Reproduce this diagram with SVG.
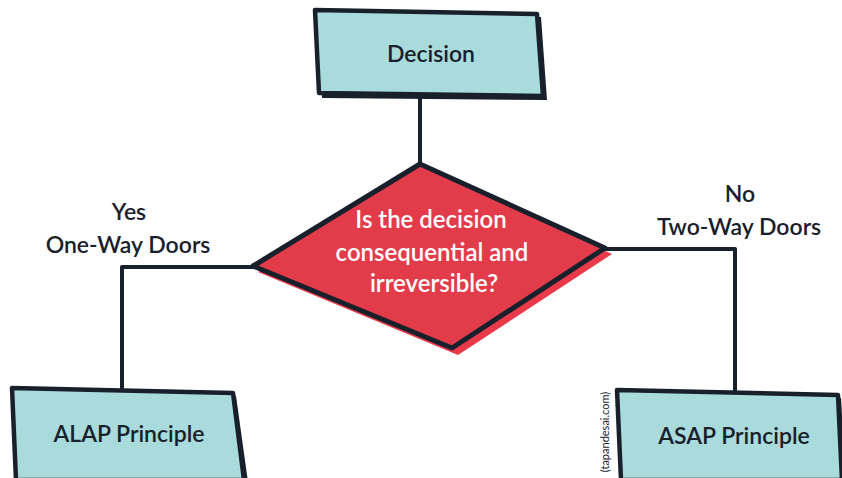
<svg xmlns="http://www.w3.org/2000/svg" width="842" height="478" viewBox="0 0 842 478">
  <style>
    .box { fill: #a9dbdc; stroke: #18202b; stroke-width: 4.5; stroke-linejoin: round; }
    .shade { fill: #18202b; }
    .wire { fill: none; stroke: #18202b; stroke-width: 4; stroke-linejoin: round; }
    .lbl { font-family: "Lato", "Open Sans", "Liberation Sans", sans-serif; font-weight: 600; fill: #18202b; text-anchor: middle; }
    .q { font-family: "Lato", "Open Sans", "Liberation Sans", sans-serif; font-weight: 600; fill: #ffffff; text-anchor: middle; font-size: 24px; }
  </style>
  <rect width="842" height="478" fill="#ffffff"/>

  <!-- connectors -->
  <g id="connectors">
    <path class="wire" d="M420 97 V165"/>
    <path class="wire" d="M254 267 H122 V391"/>
    <path class="wire" d="M604 249 H735 V393"/>
  </g>

  <!-- top node -->
  <g id="decision">
    <polygon class="shade" points="318,13 541,17 547,100 322,98"/>
    <polygon class="box" points="315,10 537,14 543,96 319,93"/>
    <text class="lbl" x="431" y="62" font-size="23">Decision</text>
  </g>

  <!-- question diamond -->
  <g id="question">
    <polygon fill="#ea3a4a" points="258,272 425,169 612,254 458,355"/>
    <polygon fill="#e23c4b" stroke="#18202b" stroke-width="5" stroke-linejoin="round" points="253,266 420,164 605,248 452,348"/>
    <text class="q" x="431" y="228">Is the decision</text>
    <text class="q" x="432" y="261">consequential and</text>
    <text class="q" x="434" y="292">irreversible?</text>
  </g>

  <!-- branch labels -->
  <g id="yes-label">
    <text class="lbl" x="129" y="220" font-size="23">Yes</text>
    <text class="lbl" x="128" y="253" font-size="23">One-Way Doors</text>
  </g>
  <g id="no-label">
    <text class="lbl" x="740" y="202" font-size="23">No</text>
    <text class="lbl" x="739" y="235" font-size="23">Two-Way Doors</text>
  </g>

  <!-- outcome nodes -->
  <g id="alap">
    <polygon class="shade" points="15,391 236,396 248,482 19,482"/>
    <polygon class="box" points="12,388 233,393 244,480 16,480"/>
    <text class="lbl" x="129" y="442" font-size="23">ALAP Principle</text>
  </g>
  <g id="asap">
    <polygon class="shade" points="620,393 841,398 846,482 624,482"/>
    <polygon class="box" points="617,390 838,395 842,480 621,480"/>
    <text class="lbl" x="734" y="444" font-size="23">ASAP Principle</text>
  </g>

  <!-- credit -->
  <text x="609" y="432" font-family="Lato, 'Liberation Sans', sans-serif" font-size="11" fill="#18202b" text-anchor="middle" transform="rotate(-90 609 432)">(tapandesai.com)</text>
</svg>
